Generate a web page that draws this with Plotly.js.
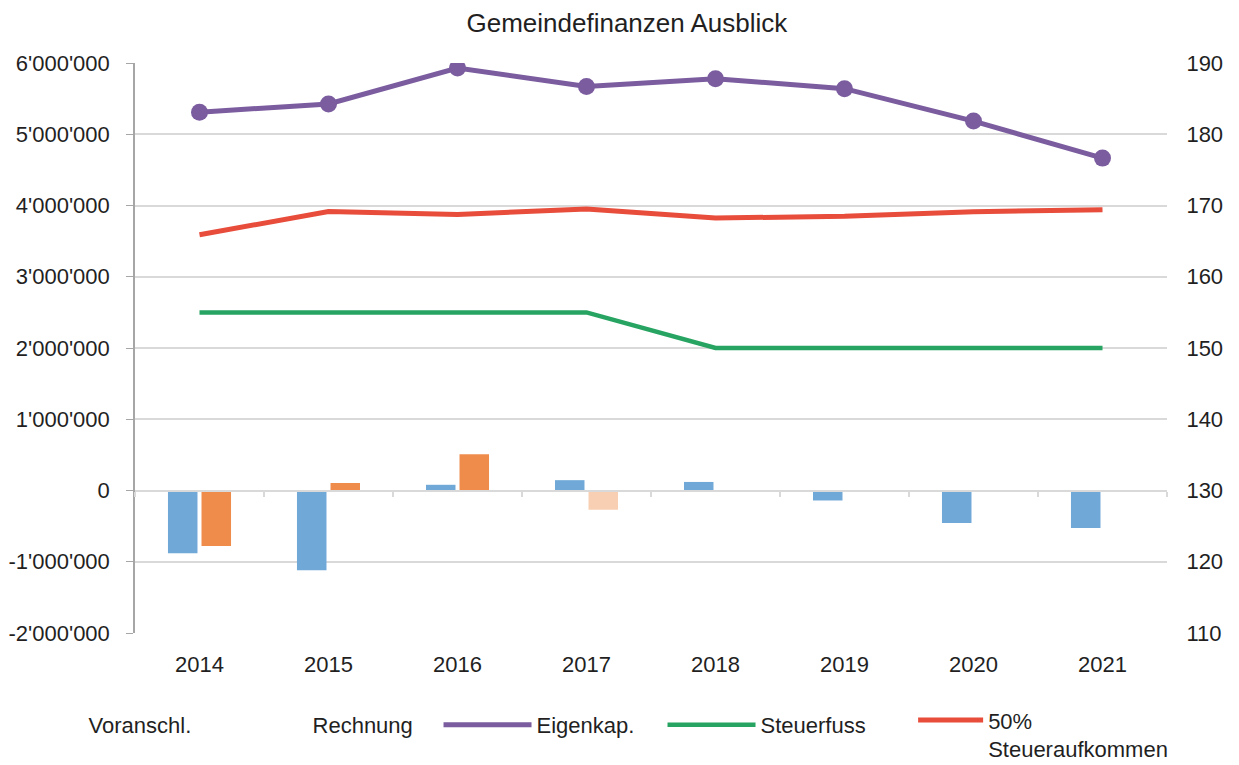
<!DOCTYPE html>
<html>
<head>
<meta charset="utf-8">
<script src="https://cdn.plot.ly/plotly-3.0.1.min.js"></script>
<style>html,body{margin:0;padding:0;background:#fff;}#chart{width:1239px;height:765px;}</style>
</head>
<body>
<div id="chart"></div>
<script>
const years = ['2014','2015','2016','2017','2018','2019','2020','2021'];
const voranschlag = [-880000, -1120000, 80000, 145000, 120000, -140000, -455000, -525000];
const rechnung = [-780000, 105000, 510000, -270000, null, null, null, null];
const eigenkapital = [5310000, 5425000, 5930000, 5670000, 5780000, 5640000, 5185000, 4665000];
const steuerfuss = [155, 155, 155, 155, 150, 150, 150, 150];
const steueraufkommen50 = [3590000, 3915000, 3875000, 3950000, 3825000, 3848000, 3912000, 3940000];
const leftTickVals = [-2000000, -1000000, 0, 1000000, 2000000, 3000000, 4000000, 5000000, 6000000];
const leftTickText = ["-2'000'000", "-1'000'000", "0", "1'000'000", "2'000'000", "3'000'000", "4'000'000", "5'000'000", "6'000'000"];

const FONT = 'Liberation Sans, Arial, sans-serif';
const TXT = '#231f1f';
const BLUE = '#70a8d8';
const ORANGE = '#ef8c4c';
const PEACH = '#f8cfb2';
const PURPLE = '#7a5c9f';
const rechnungColors = years.map(y => y === '2017' ? PEACH : ORANGE);

const traces = [
  {type:'bar', name:'Voranschl.', x:years, y:voranschlag, marker:{color:BLUE}, showlegend:false, legendgroup:'v', hoverinfo:'y'},
  {type:'bar', name:'Rechnung', x:years, y:rechnung, marker:{color:rechnungColors}, showlegend:false, legendgroup:'r', hoverinfo:'y'},
  {type:'scatter', mode:'lines', name:'Voranschl.', x:years, y:voranschlag, line:{color:'rgba(0,0,0,0)', width:0}, legendgroup:'v', hoverinfo:'skip'},
  {type:'scatter', mode:'lines', name:'Rechnung', x:years, y:rechnung, line:{color:'rgba(0,0,0,0)', width:0}, legendgroup:'r', hoverinfo:'skip'},
  {type:'scatter', mode:'lines', name:'Eigenkap.', x:years, y:eigenkapital, line:{color:PURPLE, width:5}, legendgroup:'e'},
  {type:'scatter', mode:'markers', name:'Eigenkap.', x:years, y:eigenkapital, marker:{color:PURPLE, size:17}, showlegend:false, legendgroup:'e'},
  {type:'scatter', mode:'lines', name:'Steuerfuss', x:years, y:steuerfuss, xaxis:'x2', yaxis:'y2', line:{color:'#27a461', width:4.5}},
  {type:'scatter', mode:'lines', name:'50%<br>Steueraufkommen', x:years, y:steueraufkommen50, line:{color:'#e84c3b', width:5}, legend:'legend2'}
];

const layout = {
  width:1239, height:765,
  paper_bgcolor:'#fff', plot_bgcolor:'#fff',
  font:{family:FONT, size:22, color:TXT},
  margin:{l:135, r:72, t:63, b:132, autoexpand:false},
  title:{text:'Gemeindefinanzen Ausblick', font:{family:FONT, size:26, color:TXT}, x:0.506, xanchor:'center', y:0.97, yanchor:'middle'},
  barmode:'group', bargap:0.48, bargroupgap:0.12,
  showlegend:true,
  legend:{orientation:'h', x:-0.14, xanchor:'left', y:-0.1245, yanchor:'top', font:{family:FONT, size:22, color:TXT}, entrywidth:121, itemwidth:88, traceorder:'normal', valign:'top'},
  legend2:{orientation:'h', x:0.754, xanchor:'left', y:-0.116, yanchor:'top', font:{family:FONT, size:22, color:TXT}, itemwidth:65, valign:'top'},
  xaxis:{type:'category', categoryarray:years, range:[-0.5,7.5], showline:false, showgrid:false, zeroline:false, ticks:'outside', ticklen:12, tickcolor:'rgba(0,0,0,0)', tickfont:{size:22}},
  xaxis2:{type:'category', categoryarray:years, range:[-0.5,7.5], overlaying:'x', anchor:'free', position:0.25, showline:true, linecolor:'#d9d9d9', linewidth:2, showgrid:false, zeroline:false, tickson:'boundaries', ticks:'outside', ticklen:5, tickwidth:2, tickcolor:'#d9d9d9', showticklabels:false},
  yaxis:{range:[-2000000,6000000], tickvals:leftTickVals, ticktext:leftTickText, showgrid:true, gridcolor:'#d9d9d9', gridwidth:1.5, zeroline:false, showline:true, linecolor:'#a6a6a6', linewidth:1.5, ticks:'outside', ticklen:7, tickcolor:'#a6a6a6', ticklabelstandoff:12, tickfont:{size:22}},
  yaxis2:{range:[110,190], dtick:10, overlaying:'y', side:'right', anchor:'x', showgrid:false, zeroline:false, showline:false, ticks:'outside', ticklen:14, tickcolor:'rgba(0,0,0,0)', tickfont:{size:22}}
};

Plotly.newPlot('chart', traces, layout, {displayModeBar:false, responsive:false});
</script>
</body>
</html>
